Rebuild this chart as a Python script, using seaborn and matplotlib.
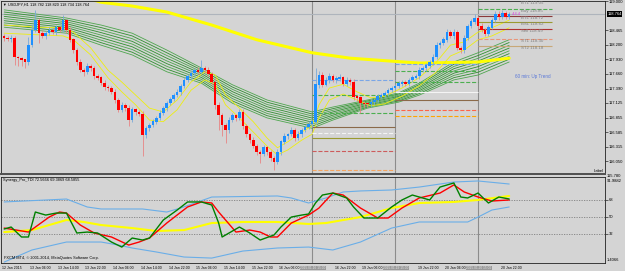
import numpy as np
import matplotlib
matplotlib.use("Agg")
from matplotlib import pyplot as plt
from matplotlib import transforms
import seaborn as sns

# ---------------- data ----------------
# USDJPY H1 candles, bar 0 = 12 Jan 22:00
first_open = 118.36
closes = [118.32, 118.30, 118.32, 117.97, 117.95, 117.92, 117.88, 118.19, 118.47, 118.65,
          118.41, 118.36, 118.41, 118.47, 118.43, 118.52, 118.47, 118.64, 118.47, 118.29,
          118.10, 117.88, 117.73, 117.70, 117.80, 117.76, 117.62, 117.59, 117.49, 117.42,
          117.40, 117.33, 117.18, 117.00, 117.09, 117.03, 116.81, 117.00, 116.96, 116.92,
          116.54, 116.66, 116.72, 116.78, 116.85, 116.94, 117.03, 117.12, 117.20, 117.27,
          117.33, 117.44, 117.55, 117.62, 117.68, 117.73, 117.70, 117.77, 117.73, 117.66,
          117.51, 117.09, 116.90, 116.72, 116.63, 116.81, 116.89, 116.85, 116.96, 116.70,
          116.55, 116.44, 116.33, 116.22, 116.19, 116.30, 116.22, 116.11, 116.04, 116.22,
          116.41, 116.52, 116.55, 116.63, 116.48, 116.55, 116.63, 116.68, 116.74, 116.78,
          117.46, 117.64, 117.46, 117.55, 117.62, 117.55, 117.57, 117.59, 117.48, 117.55,
          117.51, 117.24, 117.22, 117.12, 117.11, 117.10, 117.14, 117.18, 117.24, 117.27,
          117.31, 117.36, 117.40, 117.44, 117.48, 117.51, 117.48, 117.55, 117.59, 117.62,
          117.73, 117.77, 117.81, 117.88, 117.97, 118.19, 118.23, 118.29, 118.43, 118.36,
          118.43, 118.14, 118.10, 118.32, 118.54, 118.62, 118.69, 118.54, 118.47, 118.40,
          118.51, 118.65, 118.76, 118.71, 118.78, 118.71, 118.764]
wick_up = [0.04, 0.03, 0.05, 0.03, 0.02, 0.03, 0.02, 0.15, 0.10, 0.18,
           0.04, 0.05, 0.04, 0.06, 0.04, 0.05, 0.03, 0.11, 0.04, 0.05,
           0.03, 0.04, 0.05, 0.03, 0.06, 0.04, 0.05, 0.03, 0.04, 0.05,
           0.04, 0.03, 0.05, 0.04, 0.06, 0.03, 0.05, 0.06, 0.04, 0.03,
           0.05, 0.04, 0.03, 0.05, 0.04, 0.06, 0.04, 0.05, 0.03, 0.04,
           0.05, 0.04, 0.06, 0.04, 0.05, 0.03, 0.06, 0.15, 0.04, 0.05,
           0.03, 0.08, 0.05, 0.04, 0.03, 0.06, 0.05, 0.04, 0.06, 0.05,
           0.04, 0.03, 0.05, 0.04, 0.03, 0.05, 0.04, 0.03, 0.04, 0.05,
           0.04, 0.05, 0.03, 0.06, 0.04, 0.05, 0.03, 0.04, 0.05, 0.04,
           0.31, 0.08, 0.05, 0.06, 0.05, 0.04, 0.05, 0.06, 0.04, 0.05,
           0.04, 0.05, 0.04, 0.03, 0.04, 0.03, 0.05, 0.04, 0.05, 0.03,
           0.04, 0.05, 0.03, 0.04, 0.05, 0.04, 0.03, 0.04, 0.05, 0.04,
           0.06, 0.04, 0.05, 0.04, 0.06, 0.05, 0.04, 0.05, 0.06, 0.04,
           0.05, 0.04, 0.03, 0.05, 0.04, 0.06, 0.08, 0.04, 0.05, 0.04,
           0.05, 0.04, 0.06, 0.05, 0.06, 0.04, 0.03]
wick_dn = [0.05, 0.04, 0.05, 0.15, 0.14, 0.12, 0.11, 0.05, 0.04, 0.03,
           0.18, 0.04, 0.05, 0.03, 0.04, 0.05, 0.04, 0.03, 0.05, 0.04,
           0.05, 0.06, 0.04, 0.08, 0.05, 0.04, 0.06, 0.05, 0.04, 0.06,
           0.05, 0.04, 0.06, 0.05, 0.04, 0.05, 0.10, 0.04, 0.05, 0.04,
           0.40, 0.06, 0.05, 0.04, 0.05, 0.03, 0.04, 0.05, 0.04, 0.03,
           0.04, 0.05, 0.03, 0.04, 0.05, 0.04, 0.05, 0.04, 0.05, 0.04,
           0.06, 0.08, 0.27, 0.20, 0.24, 0.05, 0.04, 0.05, 0.04, 0.06,
           0.05, 0.06, 0.04, 0.05, 0.17, 0.04, 0.05, 0.06, 0.15, 0.04,
           0.05, 0.04, 0.05, 0.04, 0.05, 0.04, 0.05, 0.04, 0.03, 0.05,
           0.04, 0.05, 0.04, 0.03, 0.05, 0.04, 0.05, 0.04, 0.05, 0.04,
           0.05, 0.06, 0.05, 0.18, 0.06, 0.05, 0.04, 0.05, 0.04, 0.03,
           0.04, 0.05, 0.04, 0.03, 0.04, 0.05, 0.04, 0.05, 0.04, 0.03,
           0.05, 0.04, 0.05, 0.04, 0.05, 0.04, 0.05, 0.04, 0.05, 0.04,
           0.05, 0.04, 0.06, 0.05, 0.04, 0.03, 0.04, 0.05, 0.04, 0.05,
           0.04, 0.03, 0.04, 0.05, 0.04, 0.03, 0.04]

# slow yellow MA
ma_bars = [0, 26, 28, 37, 47, 60, 73, 89, 100, 111, 120, 137, 146]
ma_vals = [119.30, 119.02, 118.98, 118.91, 118.80, 118.56, 118.29, 118.05, 117.95, 117.90, 117.86, 117.88, 117.95]

# two thin yellow lines hugging price
fast_bars = [0, 10, 17, 20, 25, 30, 34, 38, 42, 46, 50, 54, 58, 61, 64, 68, 72, 76, 79, 82,
             86, 89, 91, 94, 98, 102, 106, 110, 115, 120, 125, 129, 133, 137, 141, 146]
fast_a = [118.56, 118.52, 118.51, 118.43, 118.14, 117.73, 117.51, 117.27, 117.03, 116.96,
          117.18, 117.51, 117.70, 117.64, 117.27, 117.03, 116.78, 116.48, 116.30, 116.41,
          116.59, 116.70, 117.09, 117.40, 117.47, 117.33, 117.22, 117.25, 117.40, 117.59,
          117.88, 118.19, 118.25, 118.43, 118.51, 118.65]
fast_b = [118.41, 118.38, 118.36, 118.29, 118.01, 117.59, 117.33, 117.09, 116.81, 116.78,
          117.00, 117.36, 117.55, 117.47, 117.09, 116.85, 116.59, 116.33, 116.17, 116.26,
          116.44, 116.55, 116.85, 117.18, 117.29, 117.18, 117.07, 117.11, 117.25, 117.44,
          117.70, 117.99, 118.10, 118.29, 118.36, 118.51]

# green MA ribbon, edges
rib_bars = [0, 18, 28, 37, 47, 57, 66, 76, 89, 95, 105, 114, 120, 130, 137, 146]
rib_top = [118.84, 118.69, 118.56, 118.41, 118.10, 117.77, 117.46, 117.18, 116.96, 117.05,
           117.18, 117.31, 117.49, 117.88, 118.05, 118.29]
rib_bot = [118.52, 118.41, 118.19, 118.01, 117.70, 117.49, 117.12, 116.85, 116.66, 116.81,
           117.03, 117.14, 117.27, 117.55, 117.64, 117.88]

# pivot style levels
seg_a = [117.55, 117.27, 116.94, 116.68, 116.57, 116.48, 116.24, 115.89]
seg_b = [117.84, 117.71, 117.51, 117.33, 117.18, 117.00, 116.89]
level_names = ["BT1", "Buy", "BTL", "BSL", "Sell", "ST1", "ST2"]
level_prices = [119.05, 118.85, 118.72, 118.62, 118.49, 118.30, 118.18]
last_price = 118.764

price_ticks = [116.050, 116.315, 116.585, 116.855, 117.125, 117.390, 117.660,
               117.930, 118.200, 118.465, 119.000]

# Synergy TDI sub window
blue_up_bars = [0, 18, 24, 28, 40, 47, 51, 56, 60, 79, 83, 88, 93, 98, 103, 112, 120, 130, 137, 146]
blue_up_vals = [65.7, 68.8, 60.4, 58.3, 58.3, 55.1, 59.3, 65.7, 70.9, 72.0, 69.9, 64.6, 69.9,
                76.2, 77.3, 78.3, 81.4, 86.7, 87.8, 84.6]
blue_lo_bars = [0, 8, 18, 28, 33, 37, 44, 52, 60, 69, 79, 88, 95, 103, 112, 120, 134, 137, 141, 146]
blue_lo_vals = [2.4, 15.1, 23.5, 23.5, 20.3, 17.2, 13.0, 7.7, 6.6, 14.0, 17.2, 18.2, 15.1,
                23.5, 38.2, 44.6, 44.6, 49.8, 57.2, 60.4]
yellow_bars = [0, 8, 18, 23, 28, 37, 44, 52, 60, 69, 79, 88, 93, 103, 112, 120, 130, 137, 146]
yellow_vals = [34.0, 36.1, 46.7, 44.6, 41.4, 38.2, 35.1, 36.1, 43.5, 44.6, 44.6, 42.5, 43.5,
               49.8, 59.3, 64.6, 65.7, 67.8, 72.0]
red_bars = [0, 7, 13, 16, 18, 22, 26, 31, 36, 39, 42, 47, 53, 57, 60, 62, 67, 71, 74, 77,
            79, 83, 88, 91, 95, 98, 103, 108, 111, 115, 120, 126, 130, 133, 137, 141, 146]
red_vals = [38.2, 34.0, 49.8, 55.1, 54.0, 41.4, 33.0, 28.8, 20.3, 23.5, 27.7, 43.5, 60.4,
            65.7, 64.6, 55.1, 34.0, 36.1, 34.0, 28.8, 28.8, 43.5, 51.9, 59.3, 75.1, 73.0,
            59.3, 48.8, 48.8, 59.3, 69.9, 75.1, 83.6, 76.2, 70.9, 66.7, 67.8]
green_bars = [0, 2, 5, 7, 9, 10, 12, 15, 18, 21, 24, 27, 31, 34, 37, 40, 42, 46, 50, 53,
              57, 60, 62, 63, 65, 68, 71, 74, 78, 80, 83, 86, 88, 90, 92, 95, 99, 101, 104,
              108, 112, 115, 118, 120, 123, 126, 130, 132, 134, 137, 140, 143, 146]
green_vals = [37.2, 39.3, 28.8, 28.8, 55.1, 54.0, 51.9, 54.0, 54.0, 33.0, 34.0, 33.0, 23.5,
              18.2, 27.7, 25.6, 27.7, 46.7, 57.2, 65.7, 65.7, 62.5, 43.5, 28.8, 33.0, 39.3,
              33.0, 25.6, 30.9, 39.3, 49.8, 51.9, 53.0, 64.6, 73.0, 75.1, 69.9, 60.4, 48.8,
              48.8, 60.4, 67.8, 73.0, 70.9, 67.8, 81.4, 85.7, 70.9, 69.9, 75.1, 64.6, 70.9, 68.8]
tdi_levels = [68, 50, 32]

time_bars = [0, 8, 16, 24, 32, 40, 48, 56, 64, 72, 80, 96, 104, 120, 128, 144]
time_labels = ["12 Jan 2015", "13 Jan 06:00", "13 Jan 14:00", "13 Jan 22:00", "14 Jan 06:00",
               "14 Jan 14:00", "14 Jan 22:00", "15 Jan 06:00", "15 Jan 14:00", "15 Jan 22:00",
               "16 Jan 06:00", "16 Jan 22:00", "19 Jan 06:00", "19 Jan 22:00", "20 Jan 06:00",
               "20 Jan 22:00"]
vline_bars = [89, 113, 137]
vline_labels = ["2015.01.16 15:00", "2015.01.19 15:00", "2015.01.20 15:00"]

# ---------------- figure ----------------
BG = "#d4d4d4"
sns.set_style("white", {"axes.facecolor": BG, "figure.facecolor": BG})
plt.rcParams['font.family'] = ['Liberation Sans', 'DejaVu Sans']

W, H = 625, 271
fig = plt.figure(figsize=(W / 100, H / 100), dpi=100)


def rect(x0, y0, x1, y1):
    return [x0 / W, 1 - y1 / H, (x1 - x0) / W, (y1 - y0) / H]


def ftext(x, y, s, **kw):
    fig.text(x / W, 1 - y / H, s, **kw)


ax = fig.add_axes(rect(1, 1, 605, 174))
sub = fig.add_axes(rect(1, 177, 605, 263))
XL = (-0.93, 173.7)

# ---- main chart
ax.set_xlim(*XL)
ax.set_ylim(115.817, 119.003)

for k in range(9):
    f = k / 8
    vals = [t + (b - t) * f for t, b in zip(rib_top, rib_bot)]
    sns.lineplot(x=rib_bars, y=vals, ax=ax, color="#2f8f2f" if k % 2 else "#4ea64e",
                 lw=0.6, sort=False, legend=False, zorder=2)

sns.lineplot(x=ma_bars, y=ma_vals, ax=ax, color="#ffff00", lw=2.2, sort=False, legend=False, zorder=2)
sns.lineplot(x=fast_bars, y=fast_a, ax=ax, color="#eeee10", lw=0.6, sort=False, legend=False, zorder=2)
sns.lineplot(x=fast_bars, y=fast_b, ax=ax, color="#eeee10", lw=0.6, sort=False, legend=False, zorder=2)

# levels
a_cols = ['#7aa6e6', '#4caf50', '#4caf50', '#8b6a4a', '#f4f4f4', '#9a9a30', '#cd5c5c', '#f4a460']
a_ls = ['--', '--', '--', '-', '--', '-', '--', '--']
for p, col, ls in zip(seg_a, a_cols, a_ls):
    ax.hlines(p, 89, 113, color=col, ls=ls, lw=0.8, zorder=2.5)
b_cols = ['#7aa6e6', '#4caf50', '#4caf50', '#f4f4f4', '#8b6a4a', '#ff6347', '#ffa500']
b_ls = ['--', '--', '--', '-', '-', '--', '--']
for p, col, ls in zip(seg_b, b_cols, b_ls):
    ax.hlines(p, 113, 137, color=col, ls=ls, lw=0.8, zorder=2.5)
c_cols = ['#4caf50', '#8b3a3a', '#9a9a30', '#b03030', '#e9967a', '#c8a878']
c_ls = ['--', '-', '-', '-', '--', '-']
for p, col, ls in zip(level_prices[1:], c_cols, c_ls):
    ax.hlines(p, 137, 158.5, color=col, ls=ls, lw=0.8, zorder=2.5)
for name, p in zip(level_names, level_prices):
    ax.text(149.5, min(p, 119.0), f"{name} {p:.2f}", fontsize=3.2, color="#808080",
            va="top", ha="left", zorder=4)
ax.text(147.7, 117.62, "60 min: Up Trend", fontsize=3.3, color="#5a78d8", va="center", zorder=4)
ax.text(149.3, 118.73, "-44.4", fontsize=2.8, color="#e040e0", va="bottom", ha="right", zorder=4)

# bid line
ax.axhline(last_price, color="#aeb4bc", lw=0.8, zorder=1.5)

# candles
o = np.array([first_open] + closes[:-1])
c = np.array(closes)
bars = np.arange(len(c))
hi = np.maximum(o, c) + np.array(wick_up)
lo = np.minimum(o, c) - np.array(wick_dn)
up = c >= o
ax.vlines(bars[up], lo[up], hi[up], color="#7aaad8", lw=0.6, zorder=3)
ax.vlines(bars[~up], lo[~up], hi[~up], color="#e88484", lw=0.6, zorder=3)
ax.bar(bars[up], (c - o)[up] + 0.006, bottom=o[up], width=0.74, color="#1e90ff", lw=0, zorder=3.2)
ax.bar(bars[~up], (o - c)[~up] + 0.006, bottom=c[~up], width=0.74, color="#ff0000", lw=0, zorder=3.2)

for b in vline_bars:
    ax.axvline(b, color="#8c8c8c", lw=0.8, zorder=1)
    sub.axvline(b, color="#8c8c8c", lw=0.8, zorder=1)

ax.set_xticks([])
ax.yaxis.tick_right()
ax.set_yticks(price_ticks)
ax.set_yticklabels([f"{p:.3f}" for p in price_ticks])
ax.tick_params(axis="y", length=2, width=0.4, pad=1, labelsize=3.0, colors="black")
btr = transforms.blended_transform_factory(ax.transAxes, ax.transData)
ax.text(1.004, last_price, f"{last_price:.3f}", transform=btr, fontsize=3.0, color="white",
        va="center", ha="left", bbox=dict(fc="black", ec="none", pad=0.4), zorder=5)
for s in ax.spines.values():
    s.set_color("#202020")
    s.set_linewidth(0.6)
ax.spines["bottom"].set_linewidth(1.4)
ax.spines["bottom"].set_color("#505050")
ax.set_xlabel("")
ax.set_ylabel("")

# ---- TDI sub window
sub.set_xlim(*XL)
sub.set_ylim(1.4066, 91.9882)
for lv in tdi_levels:
    sub.axhline(lv, color="#808080", lw=0.6, ls=(0, (1.5, 1.5)), zorder=1)
sns.lineplot(x=blue_up_bars, y=blue_up_vals, ax=sub, color="#6aaee8", lw=0.8, sort=False, legend=False)
sns.lineplot(x=blue_lo_bars, y=blue_lo_vals, ax=sub, color="#6aaee8", lw=0.8, sort=False, legend=False)
sns.lineplot(x=yellow_bars, y=yellow_vals, ax=sub, color="#ffff00", lw=1.5, sort=False, legend=False)
sns.lineplot(x=red_bars, y=red_vals, ax=sub, color="#ff0000", lw=1.0, sort=False, legend=False)
sns.lineplot(x=green_bars, y=green_vals, ax=sub, color="#008000", lw=1.0, sort=False, legend=False)

sub.yaxis.tick_right()
sub.set_yticks(tdi_levels)
sub.set_yticklabels([str(v) for v in tdi_levels])
sub.tick_params(axis="y", length=2, width=0.4, pad=1, labelsize=3.0, colors="black")
sub.set_xticks(time_bars)
sub.set_xticklabels([])
sub.tick_params(axis="x", length=2, width=0.4, direction="out")
btx = transforms.blended_transform_factory(sub.transData, sub.transAxes)
for b, lab in zip(time_bars, time_labels):
    sub.text(b - 0.5, -0.035, lab, transform=btx, fontsize=2.5, ha="left", va="top", color="black")
for b, lab in zip(vline_bars, vline_labels):
    sub.text(b + 0.2, -0.035, lab, transform=btx, fontsize=2.3, ha="center", va="top", color="#e6e6e6",
             bbox=dict(fc="#9a9a9a", ec="none", pad=0.3), zorder=5)
for s in sub.spines.values():
    s.set_color("#202020")
    s.set_linewidth(0.6)
sub.set_xlabel("")
sub.set_ylabel("")

# texts
ftext(2, 4.5, "\u25bc", fontsize=2.6, color="black", va="center")
ftext(8, 4.5, "USDJPY,H1 118.782 118.820 118.734 118.764", fontsize=2.8, color="black", va="center")
ftext(3, 180, "Synergy_Pro_TDI 72.5666 69.3869 68.5855", fontsize=2.8, color="black", va="center")
ftext(4, 258.5, "FXCM MT4, \u00a9 2001-2014, MetaQuotes Software Corp.", fontsize=2.8,
      color="black", va="center")
ftext(604, 170.5, "Label", fontsize=3.0, color="black", va="center", ha="right")
ftext(607, 176, "115.780", fontsize=3.0, color="black", va="center")
ftext(607, 180.5, "91.9882", fontsize=3.0, color="black", va="center")
ftext(607, 260, "1.4066", fontsize=3.0, color="black", va="center")

fig.savefig("out.png", dpi=100, facecolor=BG)
